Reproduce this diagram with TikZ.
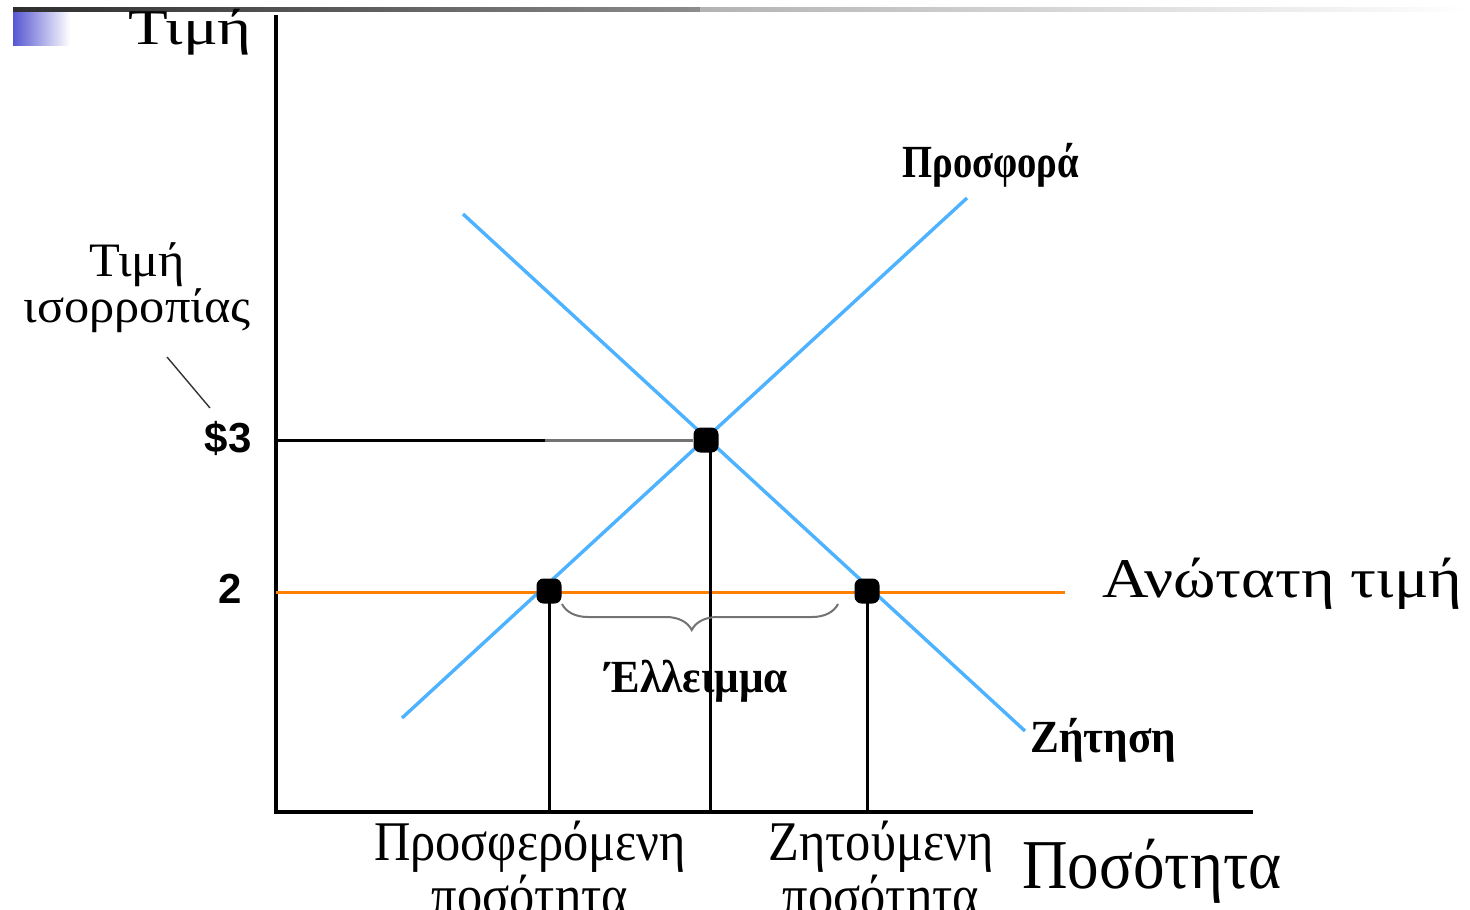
\documentclass[tikz,border=0pt]{standalone}
\usepackage{fontspec}
\setmainfont{Liberation Serif}
\newfontfamily\ticksans{Liberation Sans}
\newfontfamily\serifnarrow[FakeStretch=.9]{Liberation Serif}
\newfontfamily\serifcondensed[FakeStretch=.84]{Liberation Serif}
\newfontfamily\serifslim[FakeStretch=.94]{Liberation Serif}
\newfontfamily\serifbroad[FakeStretch=1.05]{Liberation Serif}
\newfontfamily\serifwide[FakeStretch=1.15]{Liberation Serif}
\newfontfamily\serifwider[FakeStretch=1.3]{Liberation Serif}
\usetikzlibrary{positioning,decorations.pathreplacing}
\definecolor{curveblue}{HTML}{4DB2FF}
\definecolor{ceiling}{HTML}{FF8000}
\definecolor{slideblue}{HTML}{5656D2}
\tikzset{line width=1.5pt,
  axis/.style={draw=black,line width=1.6pt},
  curve/.style={draw=curveblue,line width=1.7pt},
  ceilingline/.style={draw=ceiling,line width=1.5pt},
  drop/.style={draw=black,line width=1.5pt},
  pointer/.style={draw=black!80,line width=.7pt},
  marker/.style={rectangle,rounded corners=3.5pt,fill=black,minimum size=12.5pt,inner sep=0pt},
  gap/.style={decorate,decoration={brace,mirror,amplitude=13pt,aspect=.47},draw=black!55,line width=1pt},
  axislabel/.style={inner sep=0pt,font=\fontsize{25}{25}\selectfont},
  qlabel/.style={inner sep=0pt,align=center,font=\serifnarrow\fontsize{28}{19}\selectfont},
  curvelabel/.style={inner sep=0pt,font=\serifslim\bfseries\fontsize{23}{23}\selectfont},
  ticklabel/.style={inner sep=0pt,font=\ticksans\bfseries\fontsize{21}{21}\selectfont}}
\begin{document}
\begin{tikzpicture}[x=.5pt,y=-.5pt]
\useasboundingbox (0,0) rectangle (1470,909);
\shade[left color=black!82,right color=black!45] (13,8) rectangle (700,11.5);
\shade[left color=black!30,right color=white] (700,8) rectangle (1470,11.5);
\shade[left color=slideblue,right color=white] (13,12.5) rectangle (70,46);
\coordinate (origin) at (276,812);\coordinate (ytop) at (276,15);\coordinate (xend) at (1253,812);
\coordinate (s0) at (402,718);\coordinate (s1) at (967,198);
\coordinate (d0) at (463,214);\coordinate (d1) at (1025,731);
\coordinate (c0) at (276,592);\coordinate (c1) at (1065,592);
\draw[axis] (ytop)--(origin)--(xend);
\draw[ceilingline] (c0)--(c1);
\draw[curve] (s0)--(s1);
\draw[curve] (d0)--(d1);
\node[marker] (eq) at (706,440) {};
\node[marker] (qs) at (549,591) {};
\node[marker] (qd) at (867,591) {};
\coordinate (grey) at (545,440);
\draw[drop] (origin|-eq)--(grey);
\draw[draw=black!55,line width=1.5pt] (grey)--(eq.west);
\draw[drop] ([xshift=2pt]eq.center)--([xshift=2pt]eq.center|-origin);
\draw[drop] (qs.center)--(qs.center|-origin);
\draw[drop] (qd.center)--(qd.center|-origin);
\draw[gap] (562,604)--(838,604);
\node[axislabel,anchor=base,font=\serifwider\fontsize{25}{25}\selectfont] (ptitle) at (190,45) {Τιμή};
\node[axislabel,align=center,font=\serifbroad\fontsize{24}{21.5}\selectfont] (eqprice) at (137,288) {Τιμή\\ισορροπίας};
\node[ticklabel,anchor=base east] (p3) at (252,452) {\$3};
\node[ticklabel,anchor=base east] (p2) at (242,603) {2};
\coordinate (ptr0) at (167,357);\coordinate (ptr1) at (210,408);
\draw[pointer] (ptr0)--(ptr1);
\node[curvelabel,anchor=base west,font=\serifcondensed\bfseries\fontsize{23}{23}\selectfont] (supply) at (902,178) {Προσφορά};
\node[curvelabel,anchor=base west] (demand) at (1030,752) {Ζήτηση};
\node[axislabel,anchor=base west,font=\serifwide\fontsize{28}{28}\selectfont] (cap) at (1102,597) {Ανώτατη τιμή};
\node[curvelabel,anchor=base] (short) at (697,692) {Έλλειμμα};
\node[qlabel,anchor=north] (qsl) at (530,821) {Προσφερόμενη\\ποσότητα};
\node[qlabel,anchor=north] (qdl) at (881,821) {Ζητούμενη\\ποσότητα};
\node[axislabel,anchor=base west,font=\serifnarrow\fontsize{35}{35}\selectfont] (qtitle) at (1022,888) {Ποσότητα};
\end{tikzpicture}
\end{document}
